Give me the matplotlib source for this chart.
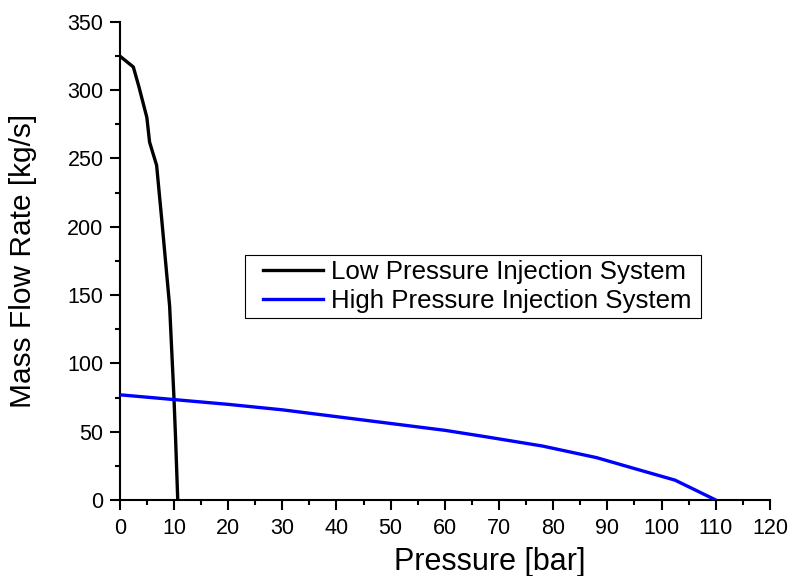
import matplotlib
matplotlib.use("Agg")
import matplotlib.pyplot as plt
from matplotlib.patches import Rectangle
from matplotlib.ticker import MultipleLocator

plt.rcParams["font.family"] = ["Liberation Sans", "DejaVu Sans"]

# Low pressure injection system (pressure bar, mass flow kg/s)
lp_pressure = [0, 2.5, 3.5, 5.0, 5.5, 6.8, 7.8, 9.2, 10.0, 10.3, 10.7]
lp_flow = [325, 317, 303, 280, 262, 245, 203, 142, 75, 45, 0]

# High pressure injection system
hp_pressure = [0, 10, 20, 30, 40, 50, 60, 68, 78, 88, 95, 102.5, 110]
hp_flow = [77, 73.5, 70, 66, 61, 56, 51, 46, 39.5, 31, 23, 14.5, 0]

fig = plt.figure(figsize=(7.88, 5.76), dpi=100)
ax = fig.add_axes([0.152, 0.132, 0.825, 0.830])

ax.plot(lp_pressure, lp_flow, color="black", lw=2.4, label="Low Pressure Injection System")
ax.plot(hp_pressure, hp_flow, color="#0000ff", lw=2.4, label="High Pressure Injection System")

ax.set_xlim(0, 120)
ax.set_ylim(0, 350)
ax.xaxis.set_major_locator(MultipleLocator(10))
ax.xaxis.set_minor_locator(MultipleLocator(5))
ax.yaxis.set_major_locator(MultipleLocator(50))
ax.yaxis.set_minor_locator(MultipleLocator(25))

for s in ["top", "right"]:
    ax.spines[s].set_visible(False)
for s in ["left", "bottom"]:
    ax.spines[s].set_linewidth(1.5)
    ax.spines[s].set_zorder(0.5)

ax.tick_params(which="major", direction="out", length=7.2, width=1.5, labelsize=15.5)
ax.tick_params(which="minor", direction="out", length=3.6, width=1.5)
ax.tick_params(axis="x", which="major", pad=6)
ax.tick_params(axis="y", which="major", pad=4.5)

ax.set_xlabel("Pressure [bar]", fontsize=22)
ax.set_ylabel("Mass Flow Rate [kg/s]", fontsize=21.5)
ax.xaxis.set_label_coords(0.569, -0.098)
ax.yaxis.set_label_coords(-0.127, 0.5)

# legend box drawn by hand so the inner left padding matches
ax.add_patch(Rectangle((0.192, 0.381), 0.702, 0.132, transform=ax.transAxes,
                       fill=False, edgecolor="black", lw=0.8, zorder=3))
ax.legend(loc="center left", bbox_to_anchor=(0.221, 0.4467), borderaxespad=0,
          borderpad=0, fontsize=18.6, frameon=False, handlelength=2.3,
          handletextpad=0.3, labelspacing=0.22)

fig.savefig("out.png", dpi=100)
